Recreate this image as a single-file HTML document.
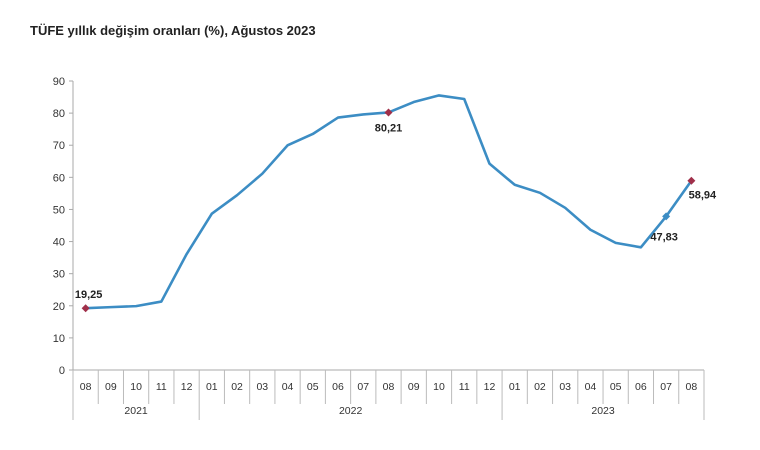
<!DOCTYPE html>
<html><head><meta charset="utf-8"><style>
body{margin:0;background:#fff;}
svg{display:block;font-family:"Liberation Sans",Arial,sans-serif;}
</style></head><body>
<svg width="760" height="450" viewBox="0 0 760 450">
<text x="30" y="35" font-size="13" font-weight="bold" fill="#222">TÜFE yıllık değişim oranları (%), Ağustos 2023</text>
<g id="ax"></g>
</svg>
<script>
const s=document.querySelector('svg'),NS='http://www.w3.org/2000/svg';
function el(t,a,txt){const e=document.createElementNS(NS,t);for(const k in a)e.setAttribute(k,a[k]);if(txt!=null)e.textContent=txt;s.appendChild(e);return e;}
const x0=73,y0=370,w=25.24,k=3.211;
const d=[19.25,19.58,19.89,21.31,36.08,48.69,54.44,61.14,69.97,73.50,78.62,79.60,80.21,83.45,85.51,84.39,64.27,57.68,55.18,50.51,43.68,39.59,38.21,47.83,58.94];
const m=['08','09','10','11','12','01','02','03','04','05','06','07','08','09','10','11','12','01','02','03','04','05','06','07','08'];
el('line',{x1:x0,y1:y0-90*k,x2:x0,y2:y0,stroke:'#aaa'});
for(let v=0;v<=90;v+=10){const y=y0-v*k;el('line',{x1:x0-4,y1:y,x2:x0,y2:y,stroke:'#aaa'});el('text',{x:x0-8,y:y+4,'font-size':11,'text-anchor':'end',fill:'#333'},v);}
el('line',{x1:x0,y1:y0,x2:x0+25*w,y2:y0,stroke:'#aaa'});
for(let i=0;i<=25;i++){const x=x0+i*w;const big=(i==0||i==5||i==17||i==25);el('line',{x1:x,y1:y0,x2:x,y2:big?420:404,stroke:'#bbb'});}
m.forEach((t,i)=>el('text',{x:x0+(i+.5)*w,y:390,'font-size':10.5,'text-anchor':'middle',fill:'#333'},t));
[['2021',0,5],['2022',5,17],['2023',17,25]].forEach(([t,a,b])=>el('text',{x:x0+(a+b)/2*w,y:414,'font-size':10.5,'text-anchor':'middle',fill:'#333'},t));
const pts=d.map((v,i)=>[x0+(i+.5)*w,y0-v*k]);
el('polyline',{points:pts.map(p=>p.join(',')).join(' '),fill:'none',stroke:'#3c8dc4','stroke-width':2.6,'stroke-linejoin':'round'});
function dia(p,c){el('path',{d:`M${p[0]},${p[1]-4}L${p[0]+4},${p[1]}L${p[0]},${p[1]+4}L${p[0]-4},${p[1]}Z`,fill:c});}
dia(pts[0],'#a0304a');dia(pts[12],'#a0304a');dia(pts[24],'#a0304a');dia(pts[23],'#3c8dc4');
const lb=(t,x,y)=>el('text',{x,y,'font-size':11,'font-weight':'bold',fill:'#222','text-anchor':'middle'},t);
lb('19,25',pts[0][0]+3,pts[0][1]-10);lb('80,21',pts[12][0],pts[12][1]+19);lb('47,83',pts[23][0]-2,pts[23][1]+24);lb('58,94',pts[24][0]+11,pts[24][1]+18);
</script>
</body></html>
